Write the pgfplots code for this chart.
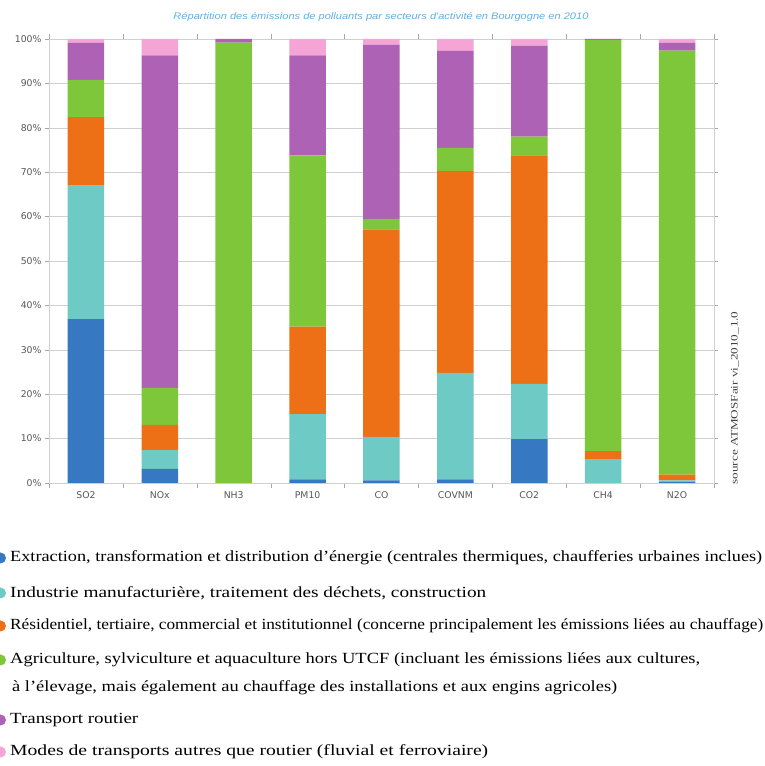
\documentclass[border=0pt]{standalone}
\usepackage{pgfplots}
\pgfplotsset{compat=1.18}
\usepackage{pgfplotstable}
\usepackage{graphicx}
\usepackage{fontspec}
\setmainfont{Liberation Serif}
\newfontfamily\dv{DejaVu Sans}
\newfontfamily\ls{Liberation Sans}
\definecolor{cblue}{HTML}{3778C2}
\definecolor{cteal}{HTML}{6DCAC4}
\definecolor{corange}{HTML}{EE7016}
\definecolor{cgreen}{HTML}{7EC63A}
\definecolor{cpurple}{HTML}{AE62B5}
\definecolor{cpink}{HTML}{F4A5D5}
\definecolor{ctitle}{HTML}{62AEDF}
\definecolor{cgrid}{HTML}{D0D0D0}
\definecolor{ctick}{HTML}{555555}
\pgfplotstableread{
x blue teal orange green purple pink
0 36.9 30.1 15.4 8.4 8.4 0.8
1 3.2 4.2 5.7 8.3 74.9 3.7
2 0 0 0 99.2 0.8 0
3 0.8 14.7 19.7 38.6 22.5 3.7
4 0.6 9.8 46.7 2.4 39.2 1.3
5 0.8 24.0 45.5 5.2 21.8 2.7
6 9.9 12.4 51.5 4.2 20.5 1.5
7 0 5.4 1.8 92.6 0.2 0
8 0.3 0.3 1.3 95.5 1.8 0.8
}\data
\newcommand{\leg}[2]{\resizebox{#1}{\height}{\fontsize{15.5}{18}\selectfont #2}}
\begin{document}
\begin{tikzpicture}[x=1pt,y=1pt]
\path[use as bounding box] (0,0) rectangle (765,766);
\begin{axis}[
  at={(49pt,283pt)}, anchor=south west,
  width=665pt, height=444pt, scale only axis,
  ybar stacked, bar width=36.5pt,
  xmin=-0.5, xmax=8.5, ymin=0, ymax=100,
  xtick={0,...,8},
  xticklabels={SO2,NOx,NH3,PM10,CO,COVNM,CO2,CH4,N2O},
  minor xtick={-0.5,0.5,...,8.5},
  ytick={0,10,...,100},
  yticklabels={0\%,10\%,20\%,30\%,40\%,50\%,60\%,70\%,80\%,90\%,100\%},
  tick align=outside,
  major tick length=4pt, minor tick length=5pt,
  major x tick style={draw=none},
  minor x tick style={cgrid!80!black},
  major y tick style={cgrid!80!black},
  ymajorgrids, grid style={cgrid},
  axis line style={cgrid},
  tick label style={font=\dv\fontsize{9.3}{11}\selectfont, text=ctick},
  xticklabel style={yshift=-1pt},
]
\addplot[fill=cblue, draw=none] table[x=x,y=blue]{\data};
\addplot[fill=cteal, draw=none] table[x=x,y=teal]{\data};
\addplot[fill=corange, draw=none] table[x=x,y=orange]{\data};
\addplot[fill=cgreen, draw=none] table[x=x,y=green]{\data};
\addplot[fill=cpurple, draw=none] table[x=x,y=purple]{\data};
\addplot[fill=cpink, draw=none] table[x=x,y=pink]{\data};
\end{axis}
\node[text=ctitle] at (381,749) {\resizebox{415pt}{\height}{\ls\itshape\fontsize{9.5}{11}\selectfont R\'epartition des \'emissions de polluants par secteurs d'activit\'e en Bourgogne en 2010}};
\node[rotate=90, text=black!75] at (735,368) {\resizebox{173pt}{\height}{\fontsize{10}{12}\selectfont source ATMOSFair vi\_2010\_1.0}};
\fill[cblue] (0.5,208) circle (5.5);
\fill[cteal] (0.5,173) circle (5.5);
\fill[corange] (0.5,140) circle (5.5);
\fill[cgreen] (0.5,106) circle (5.5);
\fill[cpurple] (0.5,46) circle (5.5);
\fill[cpink] (0.5,14) circle (5.5);
\node[anchor=west, inner sep=0pt] at (10,208) {\leg{752pt}{Extraction, transformation et distribution d’énergie (centrales thermiques, chaufferies urbaines inclues)}};
\node[anchor=west, inner sep=0pt] at (10,173) {\leg{476pt}{Industrie manufacturière, traitement des déchets, construction}};
\node[anchor=west, inner sep=0pt] at (10,140) {\leg{753pt}{Résidentiel, tertiaire, commercial et institutionnel (concerne principalement les émissions liées au chauffage)}};
\node[anchor=west, inner sep=0pt] at (10,106) {\leg{690pt}{Agriculture, sylviculture et aquaculture hors UTCF (incluant les émissions liées aux cultures,}};
\node[anchor=west, inner sep=0pt] at (12,78) {\leg{605pt}{à l’élevage, mais également au chauffage des installations et aux engins agricoles)}};
\node[anchor=west, inner sep=0pt] at (10,46) {\leg{128pt}{Transport routier}};
\node[anchor=west, inner sep=0pt] at (10,14) {\leg{478pt}{Modes de transports autres que routier (fluvial et ferroviaire)}};
\end{tikzpicture}
\end{document}
